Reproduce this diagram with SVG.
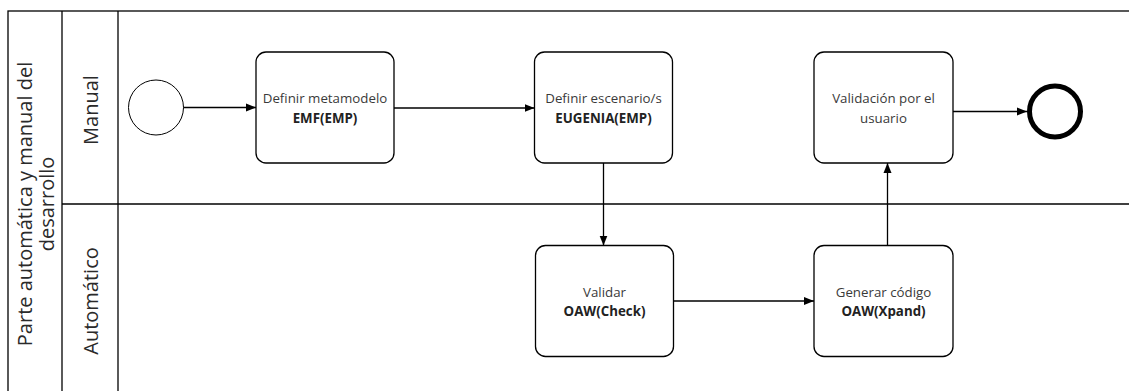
<svg xmlns="http://www.w3.org/2000/svg" width="1129" height="391" viewBox="0 0 1129 391">
  <defs>
    <marker id="arrow" viewBox="0 0 10 10" refX="10" refY="5" markerWidth="10" markerHeight="10" markerUnits="userSpaceOnUse" orient="auto">
      <path d="M0,1 L10,5 L0,9 z" fill="#000"/>
    </marker>
    <style>
      .frame { fill: none; stroke: #000; stroke-width: 1.3; }
      .task rect { fill: #fff; stroke: #000; stroke-width: 1.3; }
      .task text { font-family: "Open Sans", "Liberation Sans", sans-serif; font-size: 13.3px; fill: #3a3a3a; text-anchor: middle; }
      .task text .b { font-weight: bold; fill: #222; }
      .lane { font-family: "Open Sans", "Liberation Sans", sans-serif; font-size: 20px; fill: #2a2a2a; text-anchor: middle; }
      .conn path { fill: none; stroke: #000; stroke-width: 1.3; marker-end: url(#arrow); }
    </style>
  </defs>
  <rect width="1129" height="391" fill="#fff"/>

  <!-- pool and lanes -->
  <g id="pool">
    <rect class="frame" x="8" y="11" width="1130" height="390"/>
    <line class="frame" x1="62" y1="11" x2="62" y2="391"/>
    <line class="frame" x1="118" y1="11" x2="118" y2="391"/>
    <line class="frame" x1="62" y1="204" x2="1129" y2="204"/>
    <text class="lane" transform="translate(32,204) rotate(-90)">Parte automática y manual del</text>
    <text class="lane" transform="translate(54,204) rotate(-90)">desarrollo</text>
  </g>
  <g id="lane-manual">
    <text class="lane" transform="translate(98,110) rotate(-90)">Manual</text>
  </g>
  <g id="lane-automatico">
    <text class="lane" transform="translate(98,301) rotate(-90)">Automático</text>
  </g>

  <!-- events -->
  <g id="start">
    <circle cx="156" cy="107.5" r="27.5" fill="#fff" stroke="#000" stroke-width="1"/>
  </g>
  <g id="end">
    <circle cx="1055" cy="111.5" r="25.5" fill="#fff" stroke="#000" stroke-width="5"/>
  </g>

  <!-- tasks -->
  <g id="definir-metamodelo" class="task">
    <rect x="256" y="52" width="138" height="111" rx="10"/>
    <text x="325" y="102.5">Definir metamodelo</text>
    <text x="325" y="122.5"><tspan class="b">EMF(EMP)</tspan></text>
  </g>
  <g id="definir-escenario" class="task">
    <rect x="534.5" y="52" width="138" height="111" rx="10"/>
    <text x="603.5" y="102.5">Definir escenario/s</text>
    <text x="603.5" y="122.5"><tspan class="b">EUGENIA(EMP)</tspan></text>
  </g>
  <g id="validacion-usuario" class="task">
    <rect x="814" y="52" width="139" height="111" rx="10"/>
    <text x="883.5" y="102.5">Validación por el</text>
    <text x="883.5" y="122.5">usuario</text>
  </g>
  <g id="validar" class="task">
    <rect x="535.5" y="245.5" width="138" height="111" rx="10"/>
    <text x="604.5" y="296.5">Validar</text>
    <text x="604.5" y="316"><tspan class="b">OAW(Check)</tspan></text>
  </g>
  <g id="generar-codigo" class="task">
    <rect x="814" y="245.5" width="139" height="111" rx="10"/>
    <text x="883.5" y="296.5">Generar código</text>
    <text x="883.5" y="316"><tspan class="b">OAW(Xpand)</tspan></text>
  </g>

  <!-- sequence flows -->
  <g id="connectors" class="conn">
    <path d="M183.5,107.5 H256"/>
    <path d="M394,108 H534.5"/>
    <path d="M603.5,163 V245.5"/>
    <path d="M673.5,301 H814"/>
    <path d="M887.5,245.5 V163"/>
    <path d="M953,111.5 H1027"/>
  </g>
</svg>
